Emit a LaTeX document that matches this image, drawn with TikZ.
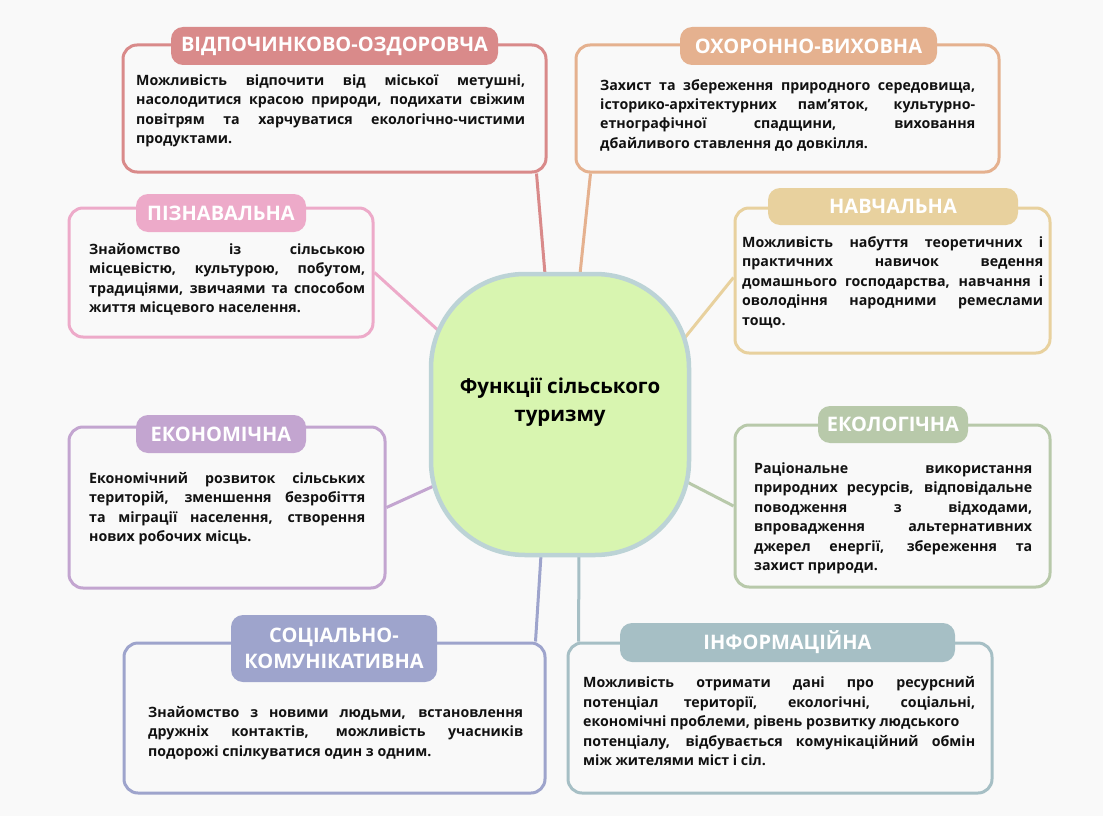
\documentclass[tikz,border=0pt]{standalone}
\usepackage{fontspec}
\setmainfont{Open Sans}
\pgfdeclarelayer{background}
\pgfsetlayers{background,main}
\newcommand{\jl}[1]{\makebox[\hsize][s]{#1}}
\newcommand{\bodyfont}{\fontsize{14.2}{19.5}\selectfont\bfseries}
\newcommand{\titlefont}{\fontsize{20}{26}\selectfont\bfseries}
\newcommand{\hubfont}{\fontsize{20.5}{28}\selectfont\bfseries}
\definecolor{ftpage}{HTML}{F9F9F9}
\definecolor{fttext}{HTML}{111111}
\definecolor{ftred}{HTML}{D98A8A}
\definecolor{ftorange}{HTML}{E5B18F}
\definecolor{ftpink}{HTML}{EDAAC9}
\definecolor{ftyellow}{HTML}{E8D19E}
\definecolor{ftviolet}{HTML}{C3A5D0}
\definecolor{ftsage}{HTML}{B8C9AA}
\definecolor{ftlav}{HTML}{9EA4CC}
\definecolor{ftteal}{HTML}{A6BFC5}
\definecolor{fthub}{HTML}{D8F5B0}
\definecolor{fthubline}{HTML}{BCD3D6}

\begin{document}
\begin{tikzpicture}[
    x=1pt, y=-1pt,
    card/.style={draw=#1, line width=3pt, rounded corners=14pt, fill=ftpage, inner sep=0pt},
    pill/.style={fill=#1, rounded corners=12pt, text=white, font=\titlefont, minimum height=38pt, inner sep=0pt, align=center},
    body/.style={anchor=base west, inner sep=0pt, text width=#1, align=justify, font=\bodyfont, text=fttext},
    hub/.style={draw=fthubline, fill=fthub, line width=4.5pt, rounded corners=94pt, minimum width=258pt, minimum height=281pt, inner sep=0pt},
    link/.style={draw=#1, line width=3pt},
  ]

  %% ================= page =================
  \begin{pgfonlayer}{background}
    \fill[ftpage] (0,0) rectangle (1103,816);
  \end{pgfonlayer}

  %% ================= centre =================
  \node[hub] (hub) at (560,414.5) {};
  \node[font=\hubfont, text=black, align=center, inner sep=0pt] (hub-t) at ([yshift=12pt]hub.center)
    {Функції сільського\\туризму};

  %% ================= cards, left column =================
  \node[card=ftred, minimum width=423pt, minimum height=127pt] (rest) at (334.5,108.5) {};
  \node[pill=ftred, minimum width=327pt] (rest-t) at (334.5,46) {ВІДПОЧИНКОВО-ОЗДОРОВЧА};
  \node[body=389pt] (rest-d) at (136,85)
    {\jl{Можливість відпочити від міської метушні,}\\
     \jl{насолодитися красою природи, подихати свіжим}\\
     \jl{повітрям та харчуватися екологічно-чистими}\\
     продуктами.};

  \node[card=ftpink, minimum width=304pt, minimum height=129pt] (know) at (221,272.5) {};
  \node[pill=ftpink, minimum width=170pt] (know-t) at (221,213) {ПІЗНАВАЛЬНА};
  \node[body=276pt] (know-d) at (89,254)
    {\jl{Знайомство із сільською}\\
     \jl{місцевістю, культурою, побутом,}\\
     \jl{традиціями, звичаями та способом}\\
     життя місцевого населення.};

  \node[card=ftviolet, minimum width=316pt, minimum height=161pt] (econ) at (227,507.5) {};
  \node[pill=ftviolet, minimum width=170pt] (econ-t) at (221,434) {ЕКОНОМІЧНА};
  \node[body=276pt] (econ-d) at (89,483)
    {\jl{Економічний розвиток сільських}\\
     \jl{територій, зменшення безробіття}\\
     \jl{та міграції населення, створення}\\
     нових робочих місць.};

  \node[card=ftlav, minimum width=421pt, minimum height=150pt] (social) at (334.5,718) {};
  \node[pill=ftlav, minimum width=206pt, minimum height=67pt] (social-t) at (334,648.5) {СОЦІАЛЬНО-\\КОМУНІКАТИВНА};
  \node[body=375pt] (social-d) at (148,717)
    {\jl{Знайомство з новими людьми, встановлення}\\
     \jl{дружніх контактів, можливість учасників}\\
     подорожі спілкуватися один з одним.};

  %% ================= cards, right column =================
  \node[card=ftorange, minimum width=423pt, minimum height=127pt] (guard) at (787.5,108.5) {};
  \node[pill=ftorange, minimum width=257pt] (guard-t) at (808.5,46) {ОХОРОННО-ВИХОВНА};
  \node[body=375pt] (guard-d) at (600,90)
    {\jl{Захист та збереження природного середовища,}\\
     \jl{історико-архітектурних пам’яток, культурно-}\\
     \jl{етнографічної спадщини, виховання}\\
     дбайливого ставлення до довкілля.};

  \node[card=ftyellow, minimum width=315pt, minimum height=145pt] (study) at (892.5,280.5) {};
  \node[pill=ftyellow, minimum width=250pt, minimum height=37pt] (study-t) at (893,206.5) {НАВЧАЛЬНА};
  \node[body=301pt] (study-d) at (742,247)
    {\jl{Можливість набуття теоретичних і}\\
     \jl{практичних навичок ведення}\\
     \jl{домашнього господарства, навчання і}\\
     \jl{оволодіння народними ремеслами}\\
     тощо.};

  \node[card=ftsage, minimum width=315pt, minimum height=162pt] (eco) at (892.5,506) {};
  \node[pill=ftsage, minimum width=150pt, minimum height=37pt] (eco-t) at (893,424.5) {ЕКОЛОГІЧНА};
  \node[body=278pt] (eco-d) at (754,473)
    {\jl{Раціональне використання}\\
     \jl{природних ресурсів, відповідальне}\\
     \jl{поводження з відходами,}\\
     \jl{впровадження альтернативних}\\
     \jl{джерел енергії, збереження та}\\
     захист природи.};

  \node[card=ftteal, minimum width=424pt, minimum height=150pt] (info) at (780,718) {};
  \node[pill=ftteal, minimum width=335pt, minimum height=39pt] (info-t) at (787.5,642.5) {ІНФОРМАЦІЙНА};
  \node[body=392pt] (info-d) at (583,687.5)
    {\jl{Можливість отримати дані про ресурсний}\\
     \jl{потенціал території, екологічні, соціальні,}\\
     економічні проблеми, рівень розвитку людського\\
     \jl{потенціалу, відбувається комунікаційний обмін}\\
     між жителями міст і сіл.};

  %% ================= links to the centre =================
  \begin{pgfonlayer}{background}
    \draw[link=ftred]    ([xshift=-11pt]rest.south east)  -- ([shift={(-15,-140.5)}]hub.center);
    \draw[link=ftorange] ([xshift=16pt]guard.south west)  -- ([shift={(20,-140.5)}]hub.center);
    \draw[link=ftpink]   (know.east)                      -- ([shift={(-120,-82.5)}]hub.center);
    \draw[link=ftyellow] ([yshift=3pt]study.west)         -- ([shift={(123,-74.5)}]hub.center);
    \draw[link=ftviolet] (econ.east)                      -- ([shift={(-124,70.5)}]hub.center);
    \draw[link=ftsage]   (eco.west)                       -- ([shift={(127,67.5)}]hub.center);
    \draw[link=ftlav]    ([xshift=-11pt]social.north east) -- ([shift={(-19,140.5)}]hub.center);
    \draw[link=ftteal]   ([xshift=12pt]info.north west)   -- ([shift={(19,140.5)}]hub.center);
  \end{pgfonlayer}

\end{tikzpicture}
\end{document}
